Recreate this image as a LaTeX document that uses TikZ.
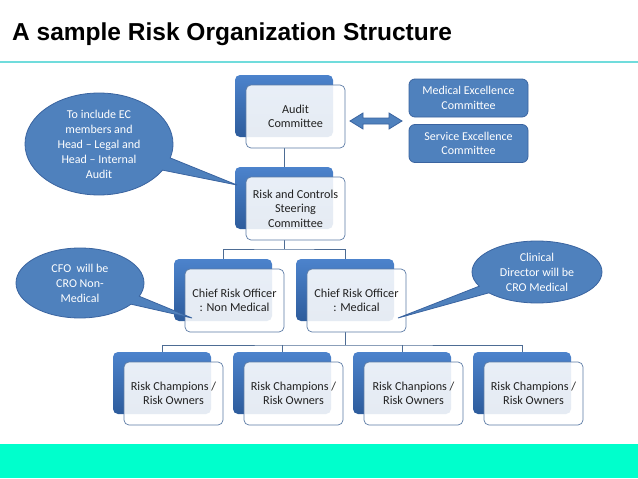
\documentclass[tikz,border=0pt]{standalone}
\usepackage{fontspec}
\setmainfont{Carlito}
\newfontfamily\titlefont{Liberation Sans}
\usetikzlibrary{shapes.callouts,backgrounds}
\definecolor{boxblue}{HTML}{4F81BD}
\definecolor{boxedge}{HTML}{3A64A0}
\definecolor{backtop}{HTML}{4C83CC}
\definecolor{backbot}{HTML}{2E5C9C}
\definecolor{frontedge}{HTML}{5D7CA6}
\definecolor{linecol}{HTML}{4D6C94}
\definecolor{rulecyan}{HTML}{70DCDC}
\definecolor{band}{HTML}{00FFCC}
\definecolor{txt}{HTML}{222222}
\tikzset{
  backbox/.style={rectangle, rounded corners=5pt, minimum width=98pt, minimum height=62pt,
    top color=backtop, bottom color=backbot, draw=none, inner sep=0pt},
  frontbox/.style={rectangle, rounded corners=5pt, minimum width=99pt, minimum height=63pt,
    fill=white, fill opacity=0.88, text opacity=1, draw=frontedge, line width=0.7pt,
    align=center, inner sep=1pt, text=txt, font=\fontsize{12.2}{14.5}\selectfont},
  bluebox/.style={rectangle, rounded corners=6pt, minimum width=119pt, minimum height=38pt,
    fill=boxblue, draw=boxedge, line width=0.8pt, text=white, align=center,
    font=\fontsize{12}{14.5}\selectfont},
  bubble/.style={ellipse callout, fill=boxblue, draw=boxedge, line width=0.8pt, text=white,
    align=center, inner sep=0pt, font=\fontsize{12}{15}\selectfont},
  conn/.style={draw=linecol, line width=0.8pt}
}
\begin{document}
\begin{tikzpicture}[x=1pt,y=-1pt]
\useasboundingbox (0,0) rectangle (638,479);
% title
\node[anchor=base west, inner sep=0pt, font=\titlefont\bfseries\fontsize{24.5}{28}\selectfont] (title) at (12,40) {A sample Risk Organization Structure};
\coordinate (rl) at (0,62);
\coordinate (rr) at (638,62);
\draw[rulecyan, line width=1.6pt] (rl) -- (rr);
% bottom band
\fill[band] (0,444) rectangle (638,478);

% boxes
\node[backbox] (audit-b) at (284,106) {};
\node[frontbox] (audit) at (295.5,116.5) {Audit\\Committee};
\node[backbox] (risk-b) at (284,198) {};
\node[frontbox] (risk) at (295.5,208.5) {Risk and Controls\\Steering\\Committee};
\node[backbox] (cronm-b) at (223,290) {};
\node[frontbox] (cronm) at (234.5,300.5) {Chief Risk Officer\\: Non Medical};
\node[backbox] (crom-b) at (345,290) {};
\node[frontbox] (crom) at (356.5,300.5) {Chief Risk Officer\\: Medical};
\node[backbox] (rc1-b) at (162,383) {};
\node[frontbox] (rc1) at (173.5,393.5) {Risk Champions /\\Risk Owners};
\node[backbox] (rc2-b) at (282,383) {};
\node[frontbox] (rc2) at (293.5,393.5) {Risk Champions /\\Risk Owners};
\node[backbox] (rc3-b) at (402,383) {};
\node[frontbox] (rc3) at (413.5,393.5) {Risk Chanpions /\\Risk Owners};
\node[backbox] (rc4-b) at (522,383) {};
\node[frontbox] (rc4) at (533.5,393.5) {Risk Champions /\\Risk Owners};

% side committees
\node[bluebox] (med) at (468.5,98) {Medical Excellence\\Committee};
\node[bluebox] (svc) at (468.5,143.5) {Service Excellence\\Committee};

% double arrow
\fill[boxblue, draw=boxedge, line width=0.8pt]
  (350,121) -- (363,113) -- (363,118) -- (389,118) -- (389,113) -- (402,121)
  -- (389,129) -- (389,124) -- (363,124) -- (363,129) -- cycle;

% connectors
\coordinate (j1) at (284,249);
\coordinate (j2) at (345,345);
\begin{scope}[on background layer]
\fill[white] (0,0) rectangle (638,479);
\draw[conn] (audit-b.south |- audit.south) -- (audit-b.south |- risk.north);
\draw[conn] (risk-b.south |- risk.south) -- (j1);
\draw[conn] (cronm-b.south |- cronm.north) |- (j1) -| (crom-b.south |- crom.north);
\draw[conn] (crom-b.south |- crom.south) -- (j2);
\draw[conn] (rc1-b.south |- rc1.north) |- (j2) -| (rc4-b.south |- rc4.north);
\draw[conn] (rc2-b.south |- rc2.north) -- (rc2-b.south |- j2);
\draw[conn] (rc3-b.south |- rc3.north) -- (rc3-b.south |- j2);
\end{scope}

% callouts
\node[bubble, minimum width=148pt, minimum height=102pt, callout absolute pointer={(237,185)}] (c1) at (99,144)
  {To include EC\\members and\\Head -- Legal and\\Head -- Internal\\Audit};
\node[bubble, minimum width=128pt, minimum height=70pt, callout absolute pointer={(192,318)}] (c2) at (80,283)
  {CFO\ \ will be\\CRO Non-\\Medical};
\node[bubble, minimum width=130pt, minimum height=62pt, callout absolute pointer={(398,318)}] (c3) at (537,272)
  {Clinical\\Director will be\\CRO Medical};
\end{tikzpicture}
\end{document}
